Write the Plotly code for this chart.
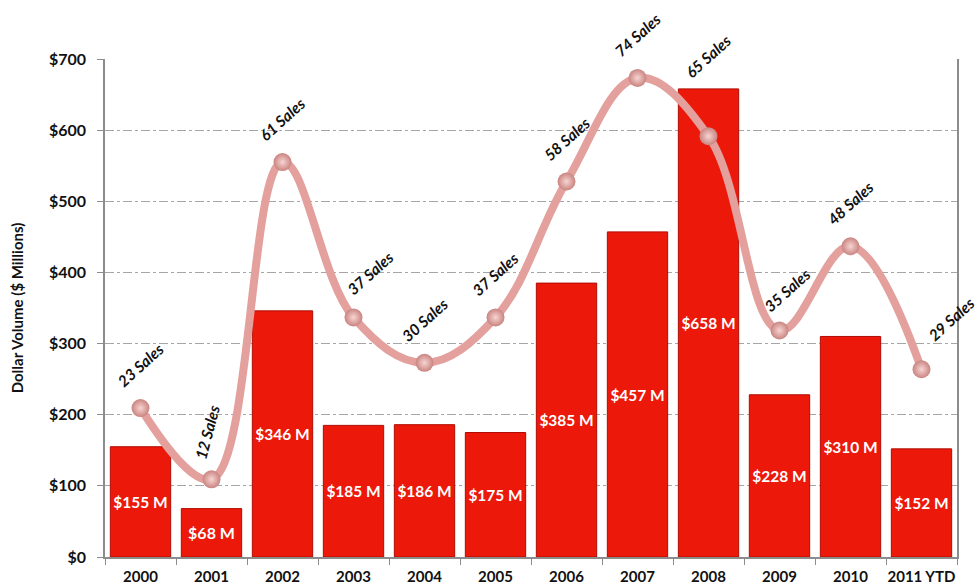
import plotly.graph_objects as go

# Annual dollar volume and number of sales
years = ["2000", "2001", "2002", "2003", "2004", "2005", "2006",
         "2007", "2008", "2009", "2010", "2011 YTD"]
volume_musd = [155, 68, 346, 185, 186, 175, 385, 457, 658, 228, 310, 152]
sales_count = [23, 12, 61, 37, 30, 37, 58, 74, 65, 35, 48, 29]
y_ticks = [0, 100, 200, 300, 400, 500, 600, 700]

# per-label nudges (dx, dy px, angle) so the rotated captions clear the curve and bars
label_nudge = {
    "2001": (-4, -47, -75),
    "2003": (17, -44, -42),
    "2008": (0, -80, -42),
    "2009": (8, -40, -42),
    "2011 YTD": (30, -50, -42),
}

FONT = "Lato"

fig = go.Figure()

fig.add_trace(go.Bar(
    x=years,
    y=volume_musd,
    text=[f"${v} M" for v in volume_musd],
    textposition="inside",
    insidetextanchor="middle",
    textangle=0,
    textfont=dict(family=FONT, size=16, color="white", weight="bold"),
    marker=dict(color="#ec1809", line=dict(color="#b00c04", width=1)),
    hoverinfo="skip",
    yaxis="y",
))

fig.add_trace(go.Scatter(
    x=years,
    y=sales_count,
    mode="lines+markers",
    line=dict(shape="spline", smoothing=1.1, color="#e3a09d", width=8),
    marker=dict(size=18, color="#c98480",
                gradient=dict(type="radial", color="#f7d4d2"),
                line=dict(width=0)),
    hoverinfo="skip",
    yaxis="y2",
))

# category axes take the index for annotation positions
for i, (yr, n) in enumerate(zip(years, sales_count)):
    dx, dy, ang = label_nudge.get(yr, (0, -43, -42))
    fig.add_annotation(
        x=i, xref="x", y=n, yref="y2",
        text=f"{n} Sales",
        showarrow=False,
        textangle=ang,
        xshift=dx, yshift=-dy,
        font=dict(family=FONT, size=15.5, color="#111111", weight="bold", style="italic"),
    )

fig.update_layout(
    width=977, height=588,
    margin=dict(l=105, r=20, t=59, b=31),
    paper_bgcolor="white",
    plot_bgcolor="white",
    showlegend=False,
    bargap=0.15,
    xaxis=dict(
        type="category",
        range=[-0.5, len(years) - 0.5],
        tickson="boundaries",
        tickangle=0,
        automargin=False,
        ticks="outside", ticklen=6, tickcolor="#8c8c8c",
        ticklabelstandoff=5,
        showline=True, linecolor="#8c8c8c", linewidth=1.5,
        showgrid=False,
        tickfont=dict(family=FONT, size=15, color="#111111", weight="bold"),
    ),
    yaxis=dict(
        range=[0, 700],
        automargin=False,
        tickvals=y_ticks,
        ticktext=[f"${v}" for v in y_ticks],
        ticks="outside", ticklen=6, tickcolor="#8c8c8c",
        ticklabelstandoff=8,
        showline=True, linecolor="#8c8c8c", linewidth=1.5,
        showgrid=True, gridcolor="#a6a6a6", griddash="dashdot", gridwidth=1,
        zeroline=False,
        tickfont=dict(family=FONT, size=16, color="#111111", weight="bold"),
        title=dict(text="Dollar Volume ($ Millions)", standoff=22,
                   font=dict(family=FONT, size=15, color="#111111", weight="bold")),
    ),
    yaxis2=dict(
        overlaying="y", side="right",
        range=[0, 700 / 9.1],
        automargin=False,
        showline=True, linecolor="#8c8c8c", linewidth=1.5,
        showticklabels=False, ticks="",
        showgrid=False, zeroline=False,
    ),
)

fig.write_html("out.html")
